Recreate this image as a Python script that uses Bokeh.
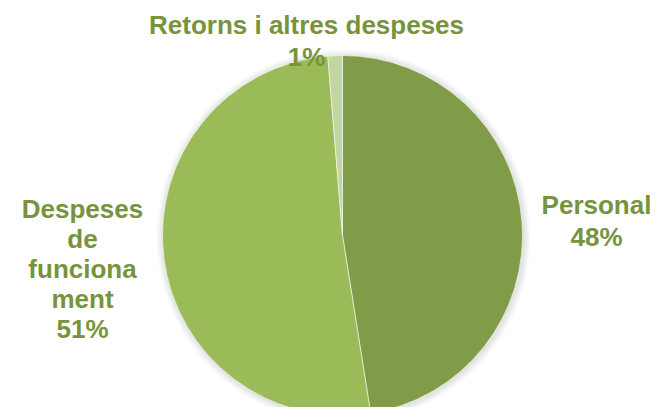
import numpy as np
from bokeh.plotting import figure
from bokeh.models import Range1d, ColumnDataSource
from bokeh.embed import file_html
from bokeh.resources import INLINE
from bokeh.core.properties import value

# ---- data ----
categories = ["Personal", "Despeses de funcionament", "Retorns i altres despeses"]
shares = [47.5, 51.2, 1.3]
slice_colors = ["#809C48", "#9BBB59", "#C4D6A0"]
label_lines = [["Personal"], ["Despeses", "de", "funciona", "ment"], ["Retorns i altres despeses"]]

W, H = 650, 407
p = figure(width=W, height=H, output_backend="svg", toolbar_location=None,
           x_range=Range1d(0, 650), y_range=Range1d(8, 415), min_border=0)
p.axis.visible = False
p.grid.visible = False
p.outline_line_color = None
p.background_fill_color = "white"
p.border_fill_color = "white"

cx, cy, r = 342, 415 - 235, 180

# soft shadow
for k in range(1, 8):
    p.circle(x=[cx + 1], y=[cy - 1], radius=r + k, fill_color="#808080",
             fill_alpha=0.035, line_color=None)

vals = np.array(shares, dtype=float)
frac = vals / vals.sum()
cum = np.concatenate([[0], np.cumsum(frac)])
start = np.pi / 2 - 2 * np.pi * cum[:-1]
end = np.pi / 2 - 2 * np.pi * cum[1:]
src = ColumnDataSource(dict(start=start, end=end, color=slice_colors, cat=categories))
p.wedge(x=cx, y=cy, radius=r, start_angle="start", end_angle="end", direction="clock",
        fill_color="color", line_color="white", line_width=0.8, line_alpha=0.7, source=src)

pct = [f"{int(round(v))}%" for v in vals]

# label positions (page px): (center x, first baseline y, line spacing)
label_pos = [(596, 204, 32), (82, 208, 30), (306, 24, 32)]
xs, ys, txt = [], [], []
for lines, pc, (lx, ly, sp) in zip(label_lines, pct, label_pos):
    all_lines = lines + [pc]
    for i, t in enumerate(all_lines):
        xs.append(lx)
        ys.append(415 - (ly + i * sp))
        txt.append(t)

p.text(x=xs, y=ys, text=txt, text_align="center", text_baseline="alphabetic",
       text_font=value("Liberation Sans"), text_font_style="bold",
       text_font_size="26px", text_color="#77933C")

open("out.html", "w").write(file_html(p, INLINE))
